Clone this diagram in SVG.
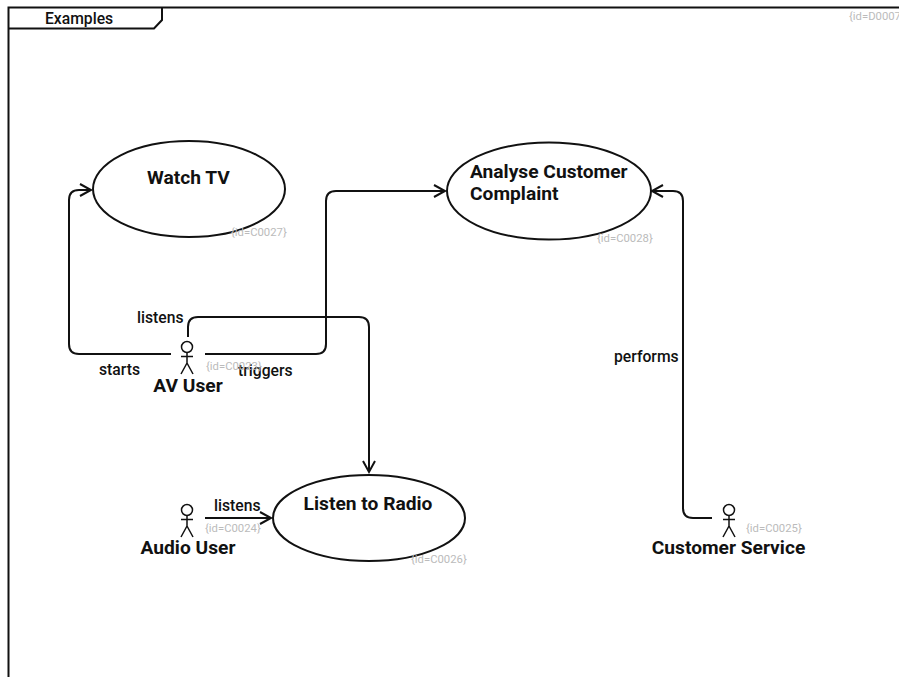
<svg xmlns="http://www.w3.org/2000/svg" width="899" height="677" viewBox="0 0 899 677">
<style>
text{font-family:Roboto,"Liberation Sans",sans-serif;fill:#111}
.l{font-size:15.700px;font-weight:500}
.n{font-size:19.200px;font-weight:700}
.i{font-size:11.300px;fill:#bbb}
.s{fill:none;stroke:#111;stroke-width:2}
.a{fill:none;stroke:#111;stroke-width:1.500}
.e{fill:#fff;stroke:#111;stroke-width:2}
</style>
<defs>
<marker id="arr" markerUnits="userSpaceOnUse" markerWidth="16" markerHeight="16" refX="13" refY="8" orient="auto"><path d="M2 2L13 8L2 14" fill="none" stroke="#111" stroke-width="2"/></marker>
<g id="actor"><circle cx="0" cy="-12" r="5.500" class="a"/><path d="M0-6.500V4M-6-2.500H6M0 4L-6 15M0 4L6 15" class="a"/></g>
</defs>
<g id="frame">
<path d="M8.500 677V7.500H899" class="s"/>
<path d="M8.500 28.500H154L162 20V7.500" class="s"/>
<text x="45" y="24" class="l">Examples</text>
<text x="849" y="20" class="i">{id=D0007}</text>
</g>
<g id="connectors">
<path d="M171 354H79Q69 354 69 344V200Q69 190 79 190H91" class="s" marker-end="url(#arr)"/>
<path d="M205 354H316Q326 354 326 344V201Q326 191 336 191H445" class="s" marker-end="url(#arr)"/>
<path d="M188 337V327Q188 317 198 317H359Q369 317 369 327V472" class="s" marker-end="url(#arr)"/>
<path d="M205 518H271" class="s" marker-end="url(#arr)"/>
<path d="M712 518H693Q683 518 683 508V201Q683 191 673 191H652" class="s" marker-end="url(#arr)"/>
<text x="137" y="322.500" class="l">listens</text>
<text x="99" y="374.500" class="l">starts</text>
<text x="238" y="375.500" class="l">triggers</text>
<text x="214" y="510.500" class="l">listens</text>
<text x="614" y="361.500" class="l">performs</text>
</g>
<g id="C0027">
<ellipse cx="189" cy="189" rx="96" ry="48" class="e"/>
<text x="188.500" y="183.500" class="n" text-anchor="middle">Watch TV</text>
<text x="231" y="236" class="i">{id=C0027}</text>
</g>
<g id="C0028">
<ellipse cx="549" cy="191" rx="102" ry="48.500" class="e"/>
<text x="470" y="177.500" class="n">Analyse Customer</text>
<text x="470" y="199.500" class="n">Complaint</text>
<text x="597" y="242" class="i">{id=C0028}</text>
</g>
<g id="C0026">
<ellipse cx="369" cy="518" rx="96" ry="43" class="e"/>
<text x="368" y="509.500" class="n" text-anchor="middle">Listen to Radio</text>
<text x="411" y="563" class="i">{id=C0026}</text>
</g>
<g id="C0023">
<use href="#actor" x="187" y="359"/>
<text x="206" y="370" class="i">{id=C0023}</text>
<text x="188" y="391.500" class="n" text-anchor="middle">AV User</text>
</g>
<g id="C0024">
<use href="#actor" x="187" y="522"/>
<text x="205" y="532" class="i">{id=C0024}</text>
<text x="188" y="553.500" class="n" text-anchor="middle">Audio User</text>
</g>
<g id="C0025">
<use href="#actor" x="729" y="522"/>
<text x="746" y="532" class="i">{id=C0025}</text>
<text x="728.500" y="553.500" class="n" text-anchor="middle">Customer Service</text>
</g>
</svg>
